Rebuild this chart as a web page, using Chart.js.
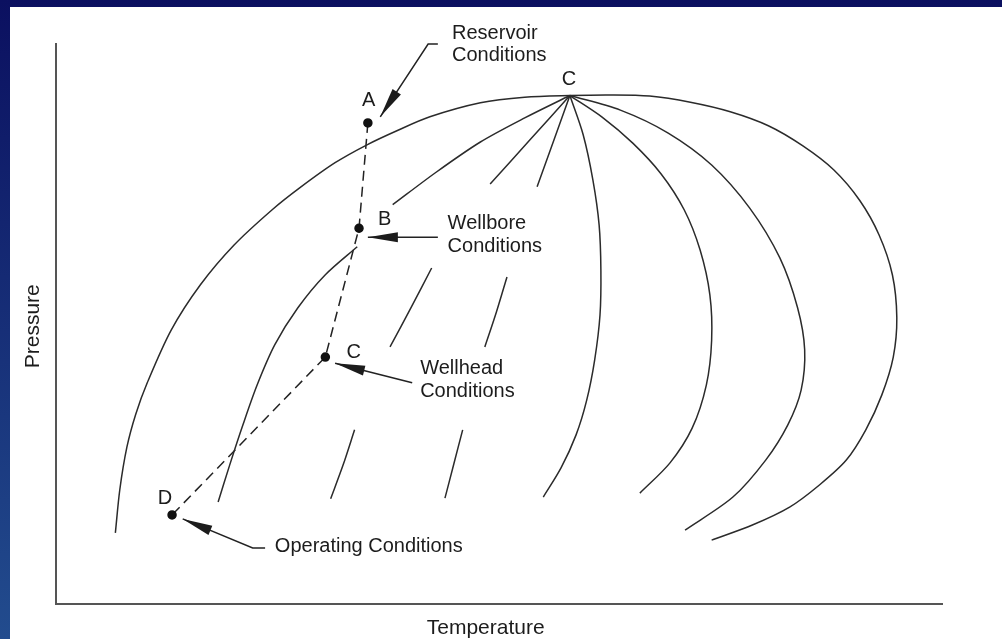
<!DOCTYPE html>
<html>
<head>
<meta charset="utf-8">
<script src="https://cdn.jsdelivr.net/npm/chart.js@4.4.0/dist/chart.umd.min.js"></script>
<style>
  html, body { margin: 0; padding: 0; }
  body { width: 1002px; height: 639px; overflow: hidden;
         background: linear-gradient(to bottom, #0b1060, #224c8e); }
  #wrap { position: absolute; left: 10px; top: 7px; width: 992px; height: 632px; background: #fff; }
</style>
</head>
<body>
<div id="wrap"><canvas id="chart" width="992" height="632"></canvas></div>
<script>
// phase diagram, values in axis units (temperature 0-100, pressure 0-100)
// null = gap in a line

const envelope = [
  [6.7,12.7],[7.2,20.4],[8.0,28.0],[9.0,33.9],[10.3,39.5],[13.0,48.9],[16.3,57.0],
  [20.1,64.1],[24.4,70.4],[27.5,74.3],[31.5,78.8],[35.1,82.0],[38.6,84.6],[42.2,87.0],
  [47.9,89.5],[52.9,90.5],[58.0,90.8],[62.5,90.9],[67.0,90.7],[71.6,89.6],[76.1,87.9],
  [80.4,85.4],[84.3,81.8],[87.8,77.5],[90.7,72.1],[92.9,65.9],[94.4,58.8],[94.9,51.1],
  [94.5,44.1],[93.2,37.3],[91.4,31.1],[89.2,25.7],[86.2,21.3],[82.8,17.3],[78.6,14.1],
  [74.0,11.4]
];

const rightLine1 = [
  [58.0,90.8],[63.7,88.2],[69.1,84.1],[74.0,78.4],[78.3,70.7],[81.7,61.8],[83.7,52.9],
  [84.5,45.4],[84.1,38.2],[82.6,32.0],[80.1,25.7],[76.4,19.1],[71.0,13.2]
];
const rightLine2 = [
  [58.0,90.8],[61.6,87.0],[65.1,82.3],[68.3,76.8],[70.9,70.4],[72.7,63.2],[73.8,55.2],
  [74.0,47.1],[73.4,39.1],[71.8,31.4],[69.3,25.2],[65.9,19.8]
];
const rightLine3 = [
  [58.0,90.8],[59.5,83.8],[60.6,75.7],[61.3,67.7],[61.5,59.6],[61.4,51.6],[60.8,43.6],
  [59.9,36.4],[58.7,30.2],[57.0,24.3],[55.0,19.1]
];

const leftLine1 = [
  [58.0,90.8],[52.9,86.8],[47.9,82.5],[42.9,77.1],[38.0,71.3], null,
  [34.0,63.8],[30.4,58.8],[27.3,52.9],[24.7,46.3],[22.7,39.1],[21.1,32.0],[19.6,24.8],[18.3,18.2]
];
const leftLine2 = [
  [58.0,90.8],[53.5,82.9],[49.0,75.0], null,
  [42.4,60.0],[40.1,53.0],[37.7,45.9], null,
  [33.7,31.1],[32.4,24.8],[31.0,18.8]
];
const leftLine3 = [
  [58.0,90.8],[54.3,74.5], null,
  [50.9,58.4],[49.7,52.1],[48.4,45.9], null,
  [45.9,31.1],[44.9,25.0],[43.9,18.9]
];

// production path A -> B -> C -> D
const pathPoints = [[35.2,85.9],[34.2,67.1],[30.4,44.1],[13.1,15.9]];
const pathNames = ['A', 'B', 'C', 'D'];
const pathLabelPos = [[35.3,90.0],[37.1,68.6],[33.6,45.0],[12.3,18.8]];

const criticalLabel = ['C', 57.9, 93.6];

// callouts: arrow from text to point
const arrowReservoir = [[43.1,100.0],[42.0,100.0],[36.6,87.0]];
const arrowWellbore = [[43.1,65.5],[35.2,65.5]];
const arrowWellhead = [[40.2,39.5],[31.5,43.0]];
const arrowOperating = [[23.6,10.0],[22.2,10.0],[14.3,15.2]];
const arrows = [arrowReservoir, arrowWellbore, arrowWellhead, arrowOperating];

const noteLines = [
  ['Reservoir', 44.7, 101.8],
  ['Conditions', 44.7, 97.9],
  ['Wellbore', 44.2, 67.9],
  ['Conditions', 44.2, 63.9],
  ['Wellhead', 41.1, 42.0],
  ['Conditions', 41.1, 37.9],
  ['Operating Conditions', 24.7, 10.2]
];

const xTitle = ['Temperature', 48.5];
const yTitle = ['Pressure', 49.6];

function toXY(arr) {
  return arr.map(p => p ? { x: p[0], y: p[1] } : { x: 0, y: null });
}

function curve(arr) {
  return {
    data: toXY(arr),
    borderColor: '#2b2b2b',
    borderWidth: 1.5,
    pointRadius: 0,
    tension: 0.3,
    spanGaps: false,
    clip: false
  };
}

function arrowShaft(arr) {
  return {
    data: toXY(arr),
    borderColor: '#222',
    borderWidth: 1.5,
    pointRadius: 0,
    tension: 0,
    clip: false
  };
}

const overlay = {
  id: 'overlay',
  afterDatasetsDraw(chart) {
    const { ctx, chartArea } = chart;
    const xs = chart.scales.x, ys = chart.scales.y;
    ctx.save();
    ctx.fillStyle = '#1c1c1c';

    // arrow heads at the end of each callout
    arrows.forEach(a => {
      const n = a.length;
      const x1 = xs.getPixelForValue(a[n - 2][0]), y1 = ys.getPixelForValue(a[n - 2][1]);
      const x2 = xs.getPixelForValue(a[n - 1][0]), y2 = ys.getPixelForValue(a[n - 1][1]);
      const ang = Math.atan2(y2 - y1, x2 - x1);
      ctx.save();
      ctx.translate(x2, y2);
      ctx.rotate(ang);
      ctx.beginPath();
      ctx.moveTo(0, 0);
      ctx.lineTo(-30, -5);
      ctx.lineTo(-30, 5);
      ctx.closePath();
      ctx.fill();
      ctx.restore();
    });

    ctx.font = '20px "Liberation Sans", Arial, sans-serif';
    ctx.textBaseline = 'middle';
    ctx.textAlign = 'left';
    noteLines.forEach(([t, tx, ty]) => {
      ctx.fillText(t, xs.getPixelForValue(tx), ys.getPixelForValue(ty));
    });

    ctx.textAlign = 'center';
    pathNames.forEach((name, i) => {
      ctx.fillText(name, xs.getPixelForValue(pathLabelPos[i][0]), ys.getPixelForValue(pathLabelPos[i][1]));
    });
    ctx.fillText(criticalLabel[0], xs.getPixelForValue(criticalLabel[1]), ys.getPixelForValue(criticalLabel[2]));

    // axis titles
    ctx.font = '21px "Liberation Sans", Arial, sans-serif';
    ctx.fillText(xTitle[0], xs.getPixelForValue(xTitle[1]), chartArea.bottom + 24);
    ctx.save();
    ctx.translate(chartArea.left - 23, ys.getPixelForValue(yTitle[1]));
    ctx.rotate(-Math.PI / 2);
    ctx.fillText(yTitle[0], 0, 0);
    ctx.restore();

    ctx.restore();
  }
};

const datasets = [
  curve(envelope),
  curve(rightLine1),
  curve(rightLine2),
  curve(rightLine3),
  curve(leftLine1),
  curve(leftLine2),
  curve(leftLine3),
  {
    data: toXY(pathPoints),
    borderColor: '#222',
    borderWidth: 1.5,
    borderDash: [10, 6],
    tension: 0,
    pointRadius: 4,
    pointBackgroundColor: '#111',
    pointBorderColor: '#111',
    clip: false
  },
  arrowShaft(arrowReservoir),
  arrowShaft(arrowWellbore),
  arrowShaft(arrowWellhead),
  arrowShaft(arrowOperating)
];

new Chart(document.getElementById('chart'), {
  type: 'line',
  data: { datasets },
  options: {
    responsive: false,
    animation: false,
    layout: { padding: { left: 46, right: 60, top: 37, bottom: 35 } },
    plugins: { legend: { display: false }, tooltip: { enabled: false } },
    scales: {
      x: {
        type: 'linear', min: 0, max: 100,
        grid: { display: false, drawTicks: false },
        ticks: { display: false },
        border: { display: true, color: '#555', width: 2 }
      },
      y: {
        type: 'linear', min: 0, max: 100,
        grid: { display: false, drawTicks: false },
        ticks: { display: false },
        border: { display: true, color: '#555', width: 2 }
      }
    }
  },
  plugins: [overlay]
});
</script>
</body>
</html>
